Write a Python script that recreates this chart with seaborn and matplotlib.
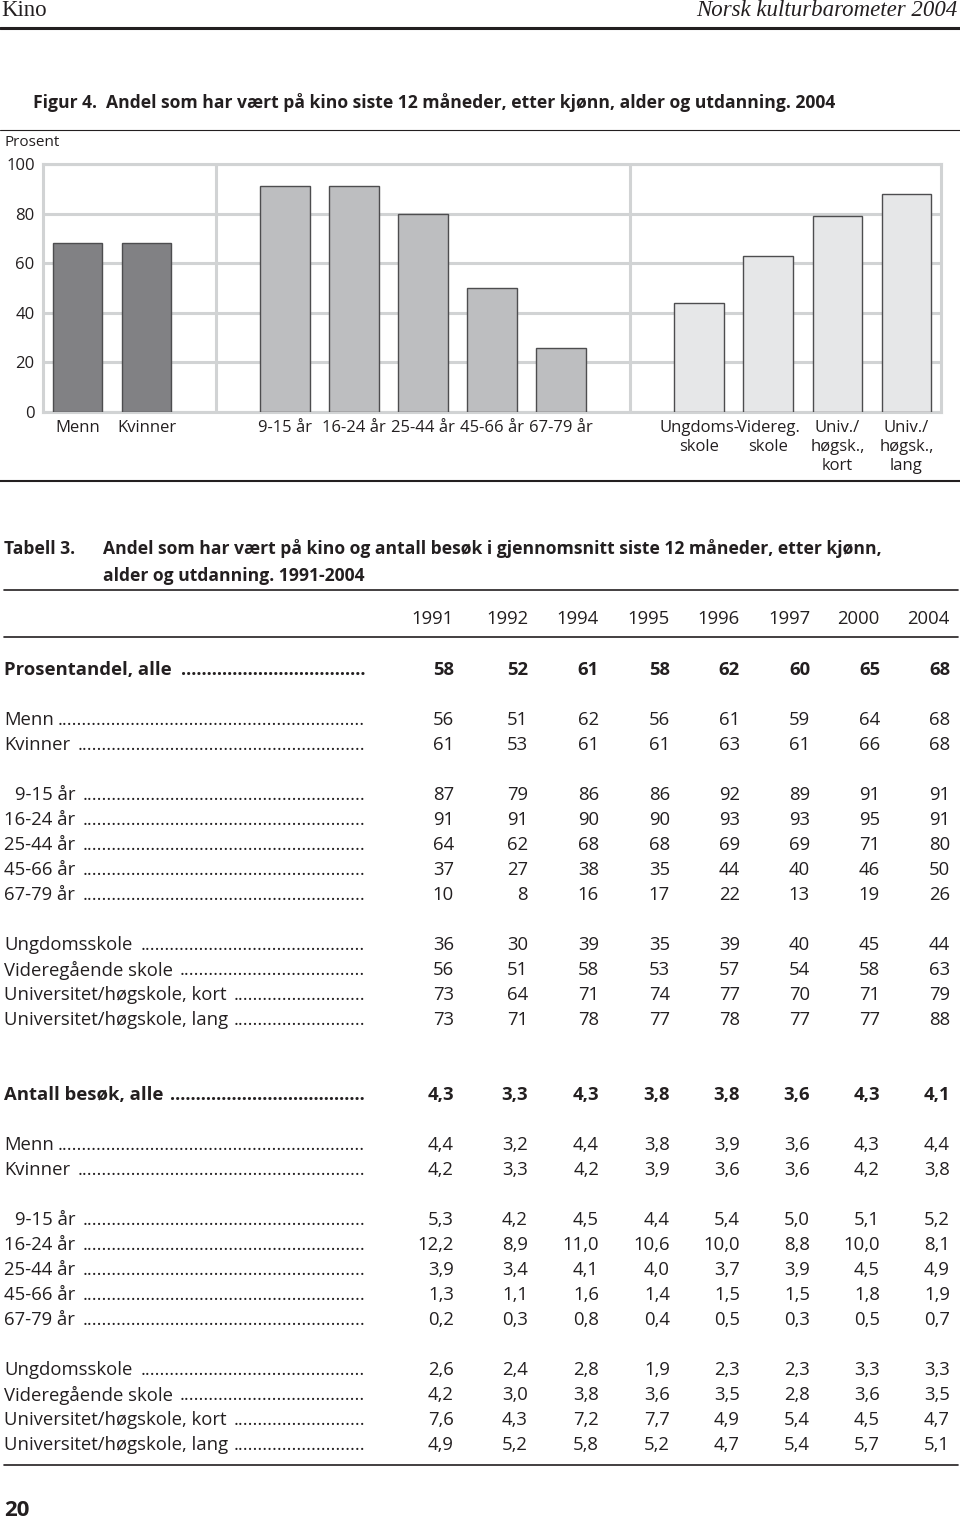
import matplotlib
matplotlib.use("Agg")
import matplotlib.pyplot as plt
import seaborn as sns
import pandas as pd

W, H = 960, 1525
DPI = 100

# ---- figure data (2004) ----
bar_labels = ["Menn", "Kvinner", "9-15 år", "16-24 år", "25-44 år", "45-66 år", "67-79 år",
              "Ungdoms-\nskole", "Videreg.\nskole", "Univ./\nhøgsk.,\nkort", "Univ./\nhøgsk.,\nlang"]
bar_values = [68, 68, 91, 91, 80, 50, 26, 44, 63, 79, 88]
bar_groups = ["kjønn"] * 2 + ["alder"] * 5 + ["utdanning"] * 4
group_colors = {"kjønn": "#808184", "alder": "#bcbec0", "utdanning": "#e6e7e8"}
y_ticks = [0, 20, 40, 60, 80, 100]

# ---- table data ----
years = ["1991", "1992", "1994", "1995", "1996", "1997", "2000", "2004"]
row_labels = ["Menn", "Kvinner", "9-15 år", "16-24 år", "25-44 år", "45-66 år", "67-79 år",
              "Ungdomsskole", "Videregående skole", "Universitet/høgskole, kort",
              "Universitet/høgskole, lang"]
pct_all = ["58", "52", "61", "58", "62", "60", "65", "68"]
pct_rows = [
    ["56", "51", "62", "56", "61", "59", "64", "68"],
    ["61", "53", "61", "61", "63", "61", "66", "68"],
    ["87", "79", "86", "86", "92", "89", "91", "91"],
    ["91", "91", "90", "90", "93", "93", "95", "91"],
    ["64", "62", "68", "68", "69", "69", "71", "80"],
    ["37", "27", "38", "35", "44", "40", "46", "50"],
    ["10", "8", "16", "17", "22", "13", "19", "26"],
    ["36", "30", "39", "35", "39", "40", "45", "44"],
    ["56", "51", "58", "53", "57", "54", "58", "63"],
    ["73", "64", "71", "74", "77", "70", "71", "79"],
    ["73", "71", "78", "77", "78", "77", "77", "88"],
]
visits_all = ["4,3", "3,3", "4,3", "3,8", "3,8", "3,6", "4,3", "4,1"]
visits_rows = [
    ["4,4", "3,2", "4,4", "3,8", "3,9", "3,6", "4,3", "4,4"],
    ["4,2", "3,3", "4,2", "3,9", "3,6", "3,6", "4,2", "3,8"],
    ["5,3", "4,2", "4,5", "4,4", "5,4", "5,0", "5,1", "5,2"],
    ["12,2", "8,9", "11,0", "10,6", "10,0", "8,8", "10,0", "8,1"],
    ["3,9", "3,4", "4,1", "4,0", "3,7", "3,9", "4,5", "4,9"],
    ["1,3", "1,1", "1,6", "1,4", "1,5", "1,5", "1,8", "1,9"],
    ["0,2", "0,3", "0,8", "0,4", "0,5", "0,3", "0,5", "0,7"],
    ["2,6", "2,4", "2,8", "1,9", "2,3", "2,3", "3,3", "3,3"],
    ["4,2", "3,0", "3,8", "3,6", "3,5", "2,8", "3,6", "3,5"],
    ["7,6", "4,3", "7,2", "7,7", "4,9", "5,4", "4,5", "4,7"],
    ["4,9", "5,2", "5,8", "5,2", "4,7", "5,4", "5,7", "5,1"],
]

sns.set_style("white")
BODY = ["Open Sans", "DejaVu Sans"]
SERIF = ["Liberation Serif", "DejaVu Serif"]
plt.rcParams["font.family"] = BODY
TXT = "#231f20"
GRID = "#d1d3d4"
FS = 13.3      # table body
HFS = 12.6     # bold headings

fig = plt.figure(figsize=(W / DPI, H / DPI), dpi=DPI)


def fx(x):
    return x / W


def fy(y):
    return 1 - y / H


def hline(y, x0, x1, lw, color=TXT):
    fig.add_artist(plt.Line2D([fx(x0), fx(x1)], [fy(y), fy(y)], lw=lw, color=color,
                              transform=fig.transFigure))


# ---- page header ----
fig.text(fx(1), fy(11), "Kino", family=SERIF, fontsize=16.5, color=TXT, va="center")
fig.text(fx(958), fy(11), "Norsk kulturbarometer 2004", family=SERIF, style="italic",
         fontsize=16.5, color=TXT, va="center", ha="right")
hline(28, 0, 960, 2.2)

fig.text(fx(33), fy(103), "Figur 4.  Andel som har vært på kino siste 12 måneder, etter kjønn, alder og utdanning. 2004",
         fontweight="bold", fontsize=HFS, color=TXT, va="center")
hline(130, 0, 960, 0.8)

# ---- bar chart ----
spacers = [" ", "  "]
order = bar_labels[:2] + [spacers[0]] + bar_labels[2:7] + [spacers[1]] + bar_labels[7:]
df = pd.DataFrame({"kategori": bar_labels, "prosent": bar_values, "gruppe": bar_groups})

ax = fig.add_axes([fx(43), fy(412), fx(941) - fx(43), fy(164) - fy(412)])
sns.barplot(data=df, x="kategori", y="prosent", hue="gruppe", order=order,
            palette=group_colors, dodge=False, width=0.72, edgecolor="#4d4d4f",
            linewidth=1.0, legend=False, ax=ax, zorder=3)
ax.set_xlim(-0.5, len(order) - 0.5)
ax.set_ylim(0, 100)
ax.set_yticks(y_ticks)
ax.set_yticklabels([str(v) for v in y_ticks], fontsize=12, color=TXT)
ax.set_xticks(range(len(order)))
ax.set_xticklabels(order, fontsize=12, color=TXT, va="top", linespacing=1.25)
ax.tick_params(length=0, pad=6)
ax.set_xlabel("")
ax.set_ylabel("")
ax.yaxis.grid(True, color=GRID, lw=2.2, zorder=0)
for pos in [2, 8]:
    ax.axvline(pos, color=GRID, lw=2.2, zorder=0)
for s in ax.spines.values():
    s.set_color(GRID)
    s.set_linewidth(2.2)
    s.set_zorder(0)
fig.text(fx(4), fy(143), "Prosent", fontsize=11, color=TXT, va="center")
hline(481, 0, 960, 1.5)

# ---- table ----
fig.text(fx(4), fy(549), "Tabell 3.", fontweight="bold", fontsize=HFS, color=TXT, va="center")
fig.text(fx(103), fy(549), "Andel som har vært på kino og antall besøk i gjennomsnitt siste 12 måneder, etter kjønn,",
         fontweight="bold", fontsize=HFS, color=TXT, va="center")
fig.text(fx(103), fy(576), "alder og utdanning. 1991-2004",
         fontweight="bold", fontsize=HFS, color=TXT, va="center")
hline(590, 4, 958, 1.2)

col_right = [454, 528, 599, 670, 740, 810, 880, 950]
for yr, xr in zip(years, col_right):
    fig.text(fx(xr), fy(619), yr, fontsize=FS, color=TXT, va="center", ha="right")
hline(637, 4, 958, 1.2)

fig.canvas.draw()
renderer = fig.canvas.get_renderer()
LEADER_END = 365


def table_row(y, label, values, bold=False):
    weight = "bold" if bold else "normal"
    x0 = 15 if label == "9-15 år" else 4
    t = fig.text(fx(x0), fy(y), label, fontsize=FS, fontweight=weight, color=TXT, va="center")
    x_end = t.get_window_extent(renderer).x1
    dot = fig.text(0, 0, ".", fontsize=FS, fontweight=weight)
    dw = dot.get_window_extent(renderer).width
    dot.remove()
    n = int((LEADER_END - x_end - 4) / dw)
    if n > 0:
        fig.text(fx(LEADER_END), fy(y), "." * n, fontsize=FS, fontweight=weight, color=TXT,
                 va="center", ha="right")
    for v, xr in zip(values, col_right):
        fig.text(fx(xr), fy(y), v, fontsize=FS, fontweight=weight, color=TXT, va="center", ha="right")


def section(y_start, title, all_vals, rows):
    y = y_start
    table_row(y, title, all_vals, bold=True)
    y += 50
    for i, (lab, vals) in enumerate(zip(row_labels, rows)):
        table_row(y, lab, vals)
        y += 25
        if i in (1, 6):
            y += 25


section(670, "Prosentandel, alle", pct_all, pct_rows)
section(1095, "Antall besøk, alle", visits_all, visits_rows)
hline(1465, 4, 958, 1.2)

fig.text(fx(4), fy(1510), "20", fontweight="bold", fontsize=16, color=TXT, va="center")

fig.savefig("out.png", dpi=DPI)
